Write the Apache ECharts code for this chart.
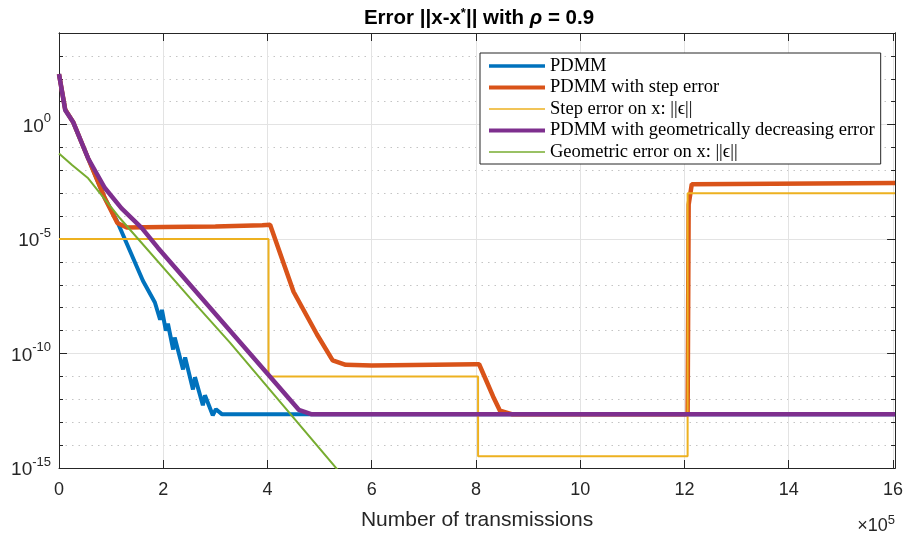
<!DOCTYPE html>
<html lang="en">
<head>
    <meta charset="UTF-8">
    <title>Error with rho = 0.9</title>
</head>
<body style="margin:0">
<div id="chart" style="width: 906px;height: 536px"></div>
<script src="https://cdn.jsdelivr.net/npm/echarts@6/dist/echarts.min.js"></script>
<script>
    // x in transmissions, y
    var pdmmX = [0, 12000, 27000, 56000, 88000, 111000, 161000, 184000, 194000, 197500, 205000, 209000, 219000, 222000,
        238000, 242000, 257000, 261000, 276000, 280000, 295000, 301000, 313000, 1604000];
    var pdmmY = [1.6e2, 4.5, 1.3, 3.3e-2, 6.0e-4, 6.3e-5, 1.5e-7, 1.7e-8, 3.0e-9, 8.1e-9, 1.0e-9, 2.0e-9, 1.5e-10, 5.0e-10,
        2.0e-11, 6.8e-11, 2.7e-12, 9.1e-12, 5.5e-13, 1.5e-12, 2.0e-13, 3.7e-13, 2.2e-13, 2.2e-13];

    var stepX = [0, 12000, 27000, 56000, 88000, 112000, 130000, 200000, 300000, 390000, 405000, 430000, 450000, 495000,
        525000, 550000, 600000, 800000, 806000, 820000, 833000, 846000, 870000, 1206000, 1208000, 1214000, 1604000];
    var stepY = [1.6e2, 4.5, 1.3, 3.3e-2, 6.0e-4, 5.0e-5, 3.2e-5, 3.4e-5, 3.5e-5, 4.0e-5, 4.2e-5, 1.0e-6, 5.0e-8, 6.8e-10,
        5.0e-11, 3.2e-11, 3.0e-11, 3.4e-11, 3.4e-11, 6.3e-12, 1.3e-12, 3.2e-13, 2.2e-13, 2.2e-13, 3.2e-4, 2.5e-3, 2.8e-3];

    var stepErrX = [0, 402000, 402000, 804000, 804000, 1206000, 1206000, 1604000];
    var stepErrY = [1.0e-5, 1.0e-5, 1.0e-11, 1.0e-11, 3.3e-15, 3.3e-15, 1.0e-3, 1.0e-3];

    var geoX = [0, 12000, 27000, 56000, 88000, 120000, 159000, 190000, 400000, 460000, 485000, 1604000];
    var geoY = [1.6e2, 4.2, 1.3, 3.3e-2, 1.7e-3, 2.2e-4, 3.0e-5, 4.1e-6, 1.3e-11, 3.5e-13, 2.2e-13, 2.2e-13];

    var geoErrX = [0, 25000, 56000, 117000, 251000, 328000, 550000];
    var geoErrY = [5.5e-2, 1.7e-2, 4.5e-3, 8.1e-5, 2.7e-8, 3.0e-10, 3.2e-16];

    var names = ['PDMM', 'PDMM with step error', 'Step error on x: ||ϵ||',
        'PDMM with geometrically decreasing error', 'Geometric error on x: ||ϵ||'];
    var colors = ['#0072BD', '#D95319', '#EDB120', '#7E2F8E', '#77AC30'];
    var widths = [4, 4.5, 2, 4.5, 2];

    function pairs (xs, ys) {
        var res = [];
        for (var i = 0; i < xs.length; i++) {
            res.push([xs[i], ys[i]]);
        }
        return res;
    }

    var seriesData = [
        pairs(pdmmX, pdmmY),
        pairs(stepX, stepY),
        pairs(stepErrX, stepErrY),
        pairs(geoX, geoY),
        pairs(geoErrX, geoErrY)
    ];

    var axisColor = '#262626';
    var font = 'Liberation Sans';

    function xAxisCfg (pos) {
        return {
            type: 'value',
            position: pos,
            min: 0,
            max: 1604000,
            interval: 200000,
            axisLine: {show: true, lineStyle: {color: axisColor, width: 1}},
            axisTick: {show: true, inside: true, length: 8, lineStyle: {color: axisColor}},
            axisLabel: {
                show: pos === 'bottom',
                margin: 13,
                color: axisColor,
                fontFamily: font,
                fontSize: 18,
                formatter: function (v) { return String(Math.round(v / 1e5)); }
            },
            splitLine: {show: pos === 'bottom', lineStyle: {color: '#e3e3e3', width: 1}},
            name: pos === 'bottom' ? 'Number of transmissions' : '',
            nameLocation: 'middle',
            nameGap: 42,
            nameTextStyle: {color: axisColor, fontFamily: font, fontSize: 21}
        };
    }

    function yAxisCfg (pos, step, labels, grid) {
        return {
            type: 'log',
            logBase: 10,
            position: pos,
            min: 1e-15,
            max: 1e4,
            interval: step,
            axisLine: {show: true, lineStyle: {color: axisColor, width: 1}},
            axisTick: {show: true, inside: true, length: step === 5 ? 8 : 4, lineStyle: {color: axisColor}},
            axisLabel: {
                show: labels,
                margin: 8,
                color: axisColor,
                formatter: function (v) {
                    var e = Math.round(Math.log(v) / Math.LN10);
                    return e % 5 === 0 ? '{b|10}{s|' + e + '}' : '';
                },
                rich: {
                    b: {fontFamily: font, fontSize: 19, color: axisColor, padding: [4, 0, 0, 0]},
                    s: {fontFamily: font, fontSize: 13, color: axisColor, padding: [0, 0, 12, 0]}
                }
            },
            splitLine: {
                show: grid !== 'none',
                lineStyle: grid === 'dot'
                    ? {color: '#c4c4c4', width: 1, type: [1.5, 5]}
                    : {color: '#e3e3e3', width: 1}
            }
        };
    }

    var series = [];
    var legendData = [];
    for (var i = 0; i < names.length; i++) {
        series.push({
            name: names[i],
            type: 'line',
            xAxisIndex: 0,
            yAxisIndex: 0,
            data: seriesData[i],
            symbol: 'none',
            showSymbol: false,
            lineStyle: {color: colors[i], width: widths[i]},
            itemStyle: {color: colors[i]},
            emphasis: {disabled: true}
        });
        legendData.push({
            name: names[i],
            itemStyle: {opacity: 0},
            lineStyle: {color: colors[i], width: widths[i] - 0.5}
        });
    }

    var option = {
        animation: false,
        backgroundColor: '#ffffff',
        title: {
            text: 'Error ||x-x{s|*}|| with {i|ρ} = 0.9',
            left: 474,
            top: 2,
            textAlign: 'center',
            textStyle: {
                fontFamily: font,
                fontSize: 20.5,
                fontWeight: 'bold',
                color: '#000',
                rich: {
                    s: {fontFamily: font, fontSize: 13, fontWeight: 'bold', color: '#000', padding: [0, 0, 10, 0]},
                    i: {fontFamily: font, fontSize: 20.5, fontStyle: 'italic', color: '#000'}
                }
            }
        },
        grid: {left: 59, right: 9, top: 33, bottom: 65, containLabel: false},
        legend: {
            orient: 'vertical',
            left: 480,
            top: 53,
            padding: [3, 6, 2, 7],
            itemWidth: 56,
            itemHeight: 14,
            itemGap: 1.5,
            selectedMode: false,
            backgroundColor: '#ffffff',
            borderColor: axisColor,
            borderWidth: 1,
            borderRadius: 0,
            data: legendData,
            itemStyle: {opacity: 0},
            textStyle: {fontFamily: 'Liberation Serif', fontSize: 18.5, lineHeight: 20, color: '#000'}
        },
        xAxis: [xAxisCfg('bottom'), xAxisCfg('top')],
        yAxis: [
            yAxisCfg('left', 1, true, 'dot'),
            yAxisCfg('left', 5, false, 'solid'),
            yAxisCfg('right', 1, false, 'none'),
            yAxisCfg('right', 5, false, 'none')
        ],
        graphic: [{
            type: 'text',
            right: 11,
            top: 514,
            style: {
                text: '×10{s|5}',
                fontFamily: font,
                fontSize: 18,
                fill: axisColor,
                rich: {
                    s: {fontFamily: font, fontSize: 13, fill: axisColor, padding: [0, 0, 12, 0]}
                }
            }
        }],
        series: series
    };

    var chart = echarts.init(document.getElementById('chart'));
    chart.setOption(option);
</script>
</body>
</html>
